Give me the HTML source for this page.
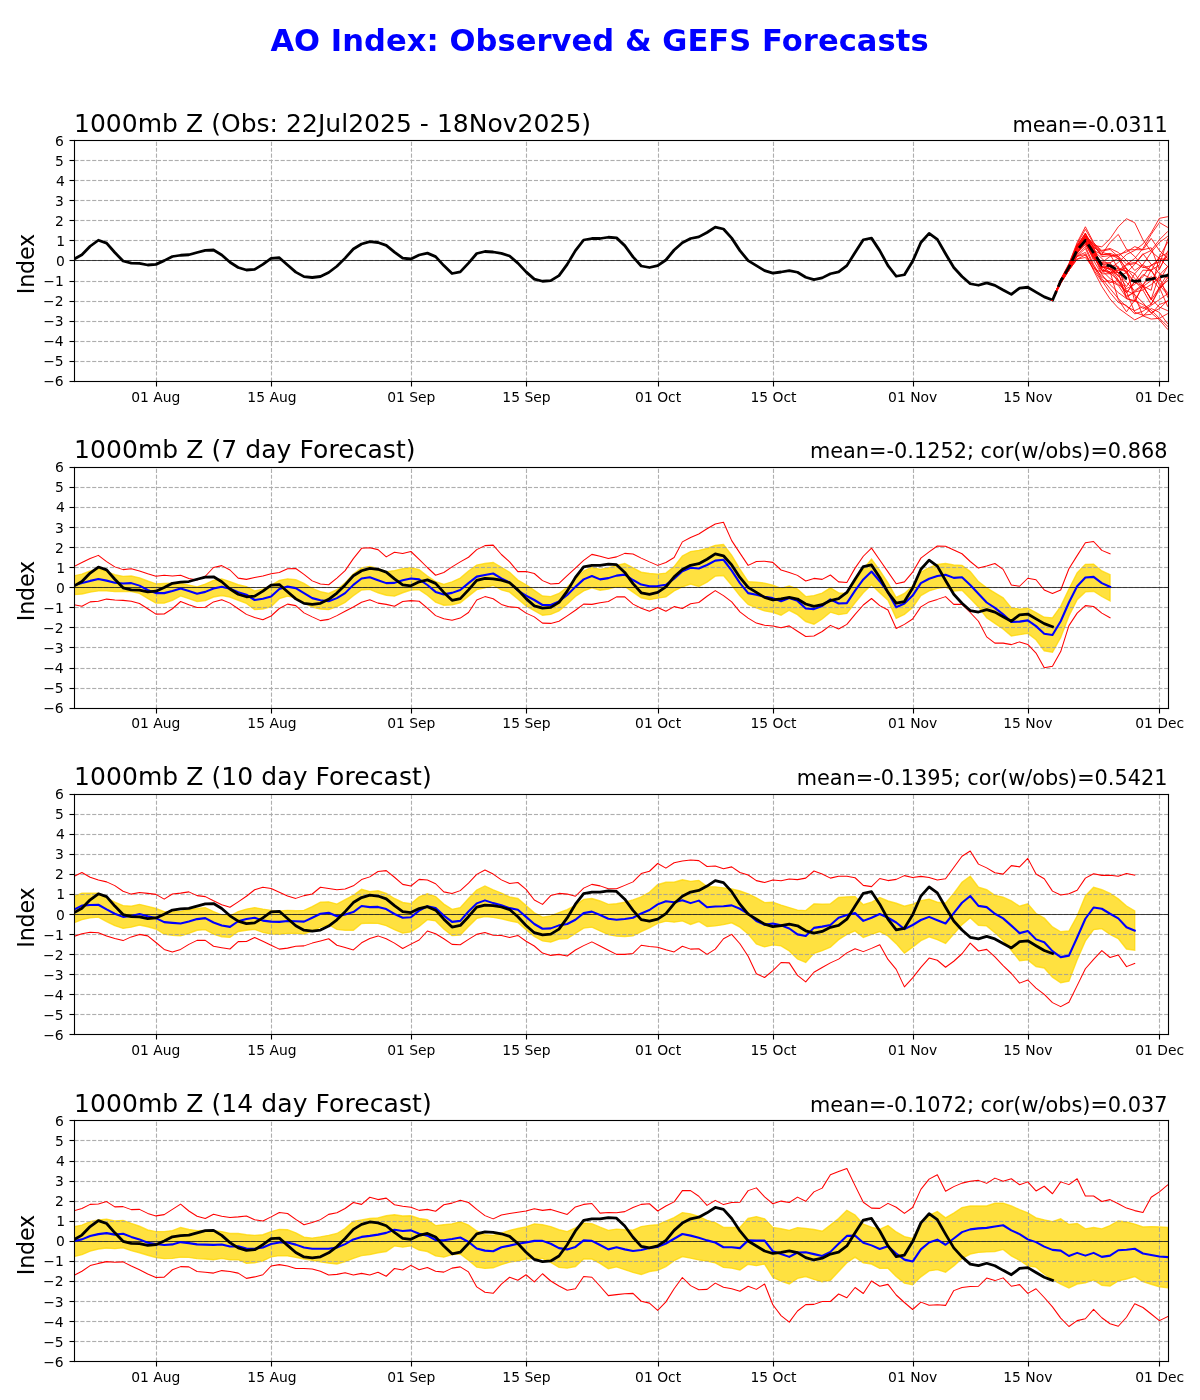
<!DOCTYPE html>
<html lang="en"><head><meta charset="utf-8"><title>AO Index: Observed &amp; GEFS Forecasts</title>
<style>html,body{margin:0;padding:0;background:#fff}body{width:1200px;height:1400px;overflow:hidden}svg{display:block}text{font-family:"DejaVu Sans","Liberation Sans",sans-serif;fill:#000}.tk{font-size:13.89px}.tl{font-size:25px}.tr{font-size:20.83px}.yl{font-size:22.22px}.st{font-size:30.56px;font-weight:bold;fill:#0000ff}.g{stroke:#999999;stroke-opacity:0.79;stroke-width:1.11;stroke-dasharray:4.11 1.78;fill:none}.g2{stroke:#999999;stroke-opacity:0.047;stroke-width:3;stroke-dasharray:4.11 1.78;fill:none}.sp{stroke:#000;stroke-width:1.11;fill:none}.ob{stroke:#000;stroke-width:2.78;fill:none;stroke-linejoin:round;stroke-linecap:square}.bl{stroke:#0000ff;stroke-width:2.08;fill:none;stroke-linejoin:round;stroke-linecap:square}.rd{stroke:#ff0000;stroke-width:1.04;fill:none;stroke-linejoin:round;stroke-linecap:square}.en{stroke:#ff0000;stroke-width:0.84;fill:none;stroke-linejoin:round;stroke-linecap:square}.yb{fill:#ffd700;fill-opacity:0.75;stroke:#ffd700;stroke-opacity:0.75;stroke-width:1.39;stroke-linejoin:miter}.z{stroke:#000;stroke-width:0.7;fill:none}</style></head><body>
<svg width="1200" height="1400" viewBox="0 0 1200 1400">
<rect width="1200" height="1400" fill="#fff"/>
<text class="st" x="599.5" y="51" text-anchor="middle" textLength="658.2">AO Index: Observed &amp; GEFS Forecasts</text>
<defs><clipPath id="c0"><rect x="74" y="140" width="1094" height="241"/></clipPath><clipPath id="c1"><rect x="74" y="467" width="1094" height="241"/></clipPath><clipPath id="c2"><rect x="74" y="794" width="1094" height="240"/></clipPath><clipPath id="c3"><rect x="74" y="1120" width="1094" height="241"/></clipPath></defs>
<g id="panel1">
<path class="g2" d="M74.5 160.5H1168.5M74.5 180.5H1168.5M74.5 200.5H1168.5M74.5 220.5H1168.5M74.5 240.5H1168.5M74.5 260.5H1168.5M74.5 281.5H1168.5M74.5 301.5H1168.5M74.5 321.5H1168.5M74.5 341.5H1168.5M74.5 361.5H1168.5"/>
<path class="g" d="M156.5 381.5V140.5M271.5 381.5V140.5M411.5 381.5V140.5M526.5 381.5V140.5M658.5 381.5V140.5M773.5 381.5V140.5M913.5 381.5V140.5M1028.5 381.5V140.5M1159.5 381.5V140.5M74.5 160.5H1168.5M74.5 180.5H1168.5M74.5 200.5H1168.5M74.5 220.5H1168.5M74.5 240.5H1168.5M74.5 260.5H1168.5M74.5 281.5H1168.5M74.5 301.5H1168.5M74.5 321.5H1168.5M74.5 341.5H1168.5M74.5 361.5H1168.5"/>
<g clip-path="url(#c0)">
<polyline class="ob" points="73.70,259.38 81.92,254.75 90.15,246.25 98.38,240.25 106.60,243.12 114.83,252.50 123.05,261.00 131.28,263.12 139.50,263.38 147.72,265.00 155.95,264.38 164.18,260.62 172.40,256.50 180.62,255.25 188.85,254.75 197.07,252.50 205.30,250.38 213.52,250.00 221.75,255.00 229.98,262.25 238.20,267.50 246.43,270.00 254.65,269.38 262.88,264.38 271.10,258.38 279.32,257.75 287.55,265.00 295.77,272.12 304.00,276.62 312.22,277.50 320.45,276.50 328.68,272.50 336.90,266.25 345.12,258.12 353.35,249.00 361.57,244.00 369.80,241.62 378.02,242.50 386.25,245.38 394.47,252.12 402.70,258.12 410.92,259.00 419.15,255.00 427.38,253.12 435.60,256.62 443.82,265.62 452.05,273.50 460.27,271.88 468.50,263.12 476.72,253.50 484.95,251.50 493.17,252.00 501.40,253.44 509.62,256.00 517.85,263.12 526.08,271.88 534.30,279.12 542.52,281.25 550.75,280.62 558.98,275.62 567.20,264.38 575.42,250.62 583.65,240.00 591.88,238.50 600.10,238.50 608.33,237.25 616.55,237.88 624.77,245.62 633.00,256.88 641.23,266.00 649.45,267.50 657.68,265.62 665.90,260.00 674.12,250.00 682.35,242.75 690.58,238.50 698.80,236.88 707.02,232.50 715.25,227.12 723.48,229.00 731.70,238.12 739.93,250.62 748.15,260.62 756.38,265.62 764.60,270.62 772.83,273.12 781.05,272.00 789.27,270.62 797.50,272.25 805.73,277.25 813.95,279.62 822.18,277.88 830.40,273.75 838.62,271.88 846.85,265.62 855.08,252.50 863.30,239.75 871.52,238.12 879.75,250.62 887.98,265.62 896.20,276.25 904.42,274.75 912.65,261.25 920.88,242.50 929.10,233.38 937.33,239.38 945.55,253.75 953.77,267.50 962.00,276.50 970.23,283.75 978.45,285.25 986.67,282.88 994.90,285.38 1003.12,290.00 1011.35,294.38 1019.58,288.12 1027.80,287.25 1036.02,292.12 1044.25,296.88 1052.47,300.00"/>
<polyline class="en" points="1052.47,300.31 1060.70,280.03 1068.92,265.26 1077.15,246.83 1085.38,234.38 1093.60,245.42 1101.83,246.82 1110.05,238.79 1118.28,226.75 1126.50,218.72 1134.72,222.74 1142.95,239.80 1151.17,251.44 1159.40,258.46 1167.62,266.49 1175.85,270.51"/>
<polyline class="en" points="1052.47,300.31 1060.70,280.59 1068.92,266.39 1077.15,248.70 1085.38,238.39 1093.60,250.44 1101.83,254.45 1110.05,242.41 1118.28,234.38 1126.50,249.23 1134.72,256.46 1142.95,266.49 1151.17,270.51 1159.40,256.46 1167.62,242.41 1175.85,235.38"/>
<polyline class="en" points="1052.47,300.31 1060.70,280.97 1068.92,266.43 1077.15,248.56 1085.38,240.40 1093.60,254.45 1101.83,264.48 1110.05,268.50 1118.28,262.48 1126.50,254.45 1134.72,250.44 1142.95,244.01 1151.17,232.77 1159.40,218.32 1167.62,216.72 1175.85,215.91"/>
<polyline class="en" points="1052.47,300.31 1060.70,281.33 1068.92,266.21 1077.15,252.78 1085.38,242.41 1093.60,256.46 1101.83,266.49 1110.05,272.51 1118.28,270.51 1126.50,264.48 1134.72,258.46 1142.95,248.43 1151.17,234.38 1159.40,222.54 1167.62,227.35 1175.85,229.76"/>
<polyline class="en" points="1052.47,300.31 1060.70,280.05 1068.92,266.53 1077.15,247.57 1085.38,236.39 1093.60,250.44 1101.83,258.46 1110.05,266.49 1118.28,276.53 1126.50,272.51 1134.72,264.48 1142.95,254.45 1151.17,250.44 1159.40,239.80 1167.62,231.57 1175.85,227.45"/>
<polyline class="en" points="1052.47,300.31 1060.70,281.26 1068.92,268.08 1077.15,251.41 1085.38,244.41 1093.60,258.46 1101.83,262.48 1110.05,256.46 1118.28,254.45 1126.50,252.04 1134.72,246.62 1142.95,249.83 1151.17,238.39 1159.40,250.44 1167.62,258.46 1175.85,262.48"/>
<polyline class="en" points="1052.47,300.31 1060.70,283.18 1068.92,270.30 1077.15,255.99 1085.38,252.44 1093.60,270.51 1101.83,286.56 1110.05,299.00 1118.28,308.04 1126.50,314.06 1134.72,319.88 1142.95,315.86 1151.17,319.07 1159.40,318.27 1167.62,313.66 1175.85,311.35"/>
<polyline class="en" points="1052.47,300.31 1060.70,281.28 1068.92,267.87 1077.15,252.10 1085.38,240.40 1093.60,256.46 1101.83,270.51 1110.05,278.53 1118.28,284.55 1126.50,290.58 1134.72,294.59 1142.95,302.62 1151.17,312.85 1159.40,319.88 1167.62,329.31 1175.85,334.03"/>
<polyline class="en" points="1052.47,300.31 1060.70,280.78 1068.92,267.33 1077.15,249.10 1085.38,242.41 1093.60,260.47 1101.83,274.52 1110.05,284.55 1118.28,292.58 1126.50,298.60 1134.72,300.61 1142.95,304.62 1151.17,310.04 1159.40,318.27 1167.62,326.30 1175.85,330.31"/>
<polyline class="en" points="1052.47,300.31 1060.70,282.41 1068.92,269.11 1077.15,256.18 1085.38,248.43 1093.60,266.49 1101.83,280.54 1110.05,292.58 1118.28,302.42 1126.50,305.43 1134.72,313.86 1142.95,311.25 1151.17,305.43 1159.40,299.61 1167.62,293.79 1175.85,290.88"/>
<polyline class="en" points="1052.47,300.31 1060.70,281.53 1068.92,267.77 1077.15,254.70 1085.38,246.42 1093.60,264.48 1101.83,278.53 1110.05,288.57 1118.28,298.60 1126.50,306.63 1134.72,310.65 1142.95,306.63 1151.17,312.65 1159.40,308.64 1167.62,300.61 1175.85,296.60"/>
<polyline class="en" points="1052.47,300.31 1060.70,279.14 1068.92,263.68 1077.15,242.55 1085.38,226.75 1093.60,242.41 1101.83,252.44 1110.05,254.45 1118.28,258.46 1126.50,268.50 1134.72,278.53 1142.95,286.56 1151.17,280.54 1159.40,268.50 1167.62,254.45 1175.85,247.42"/>
<polyline class="en" points="1052.47,300.31 1060.70,280.07 1068.92,264.00 1077.15,243.91 1085.38,229.36 1093.60,243.41 1101.83,250.44 1110.05,248.43 1118.28,252.44 1126.50,260.47 1134.72,270.51 1142.95,264.48 1151.17,252.44 1159.40,242.41 1167.62,236.39 1175.85,233.38"/>
<polyline class="en" points="1052.47,300.31 1060.70,283.57 1068.92,270.30 1077.15,259.12 1085.38,257.46 1093.60,268.50 1101.83,272.51 1110.05,266.49 1118.28,272.51 1126.50,282.55 1134.72,290.58 1142.95,284.55 1151.17,276.53 1159.40,282.55 1167.62,292.58 1175.85,297.60"/>
<polyline class="en" points="1052.47,300.31 1060.70,282.41 1068.92,270.30 1077.15,256.40 1085.38,254.45 1093.60,266.49 1101.83,276.53 1110.05,282.55 1118.28,280.54 1126.50,288.57 1134.72,284.55 1142.95,274.52 1151.17,278.53 1159.40,288.57 1167.62,280.54 1175.85,276.53"/>
<polyline class="en" points="1052.47,300.31 1060.70,280.72 1068.92,266.96 1077.15,251.48 1085.38,242.51 1093.60,252.83 1101.83,266.51 1110.05,269.32 1118.28,282.39 1126.50,292.65 1134.72,282.15 1142.95,276.87 1151.17,264.93 1159.40,261.93 1167.62,256.82 1175.85,254.27"/>
<polyline class="en" points="1052.47,300.31 1060.70,281.16 1068.92,266.66 1077.15,249.71 1085.38,240.12 1093.60,258.51 1101.83,267.37 1110.05,265.33 1118.28,266.42 1126.50,291.74 1134.72,312.29 1142.95,315.22 1151.17,314.27 1159.40,304.46 1167.62,301.49 1175.85,300.01"/>
<polyline class="en" points="1052.47,300.31 1060.70,280.60 1068.92,266.02 1077.15,249.21 1085.38,238.30 1093.60,253.25 1101.83,264.50 1110.05,262.99 1118.28,273.30 1126.50,265.10 1134.72,263.67 1142.95,253.71 1151.17,264.33 1159.40,273.73 1167.62,277.90 1175.85,279.99"/>
<polyline class="en" points="1052.47,300.31 1060.70,281.93 1068.92,267.81 1077.15,253.37 1085.38,241.70 1093.60,251.68 1101.83,263.18 1110.05,266.62 1118.28,279.67 1126.50,293.04 1134.72,281.31 1142.95,289.55 1151.17,284.59 1159.40,276.95 1167.62,296.96 1175.85,306.96"/>
<polyline class="en" points="1052.47,300.31 1060.70,280.72 1068.92,267.22 1077.15,251.15 1085.38,240.86 1093.60,248.53 1101.83,270.27 1110.05,273.31 1118.28,280.04 1126.50,296.29 1134.72,292.04 1142.95,290.05 1151.17,304.47 1159.40,289.36 1167.62,277.76 1175.85,271.96"/>
<polyline class="en" points="1052.47,300.31 1060.70,280.32 1068.92,265.83 1077.15,247.43 1085.38,236.00 1093.60,243.77 1101.83,254.61 1110.05,254.27 1118.28,268.97 1126.50,271.69 1134.72,282.19 1142.95,286.41 1151.17,299.13 1159.40,307.06 1167.62,310.68 1175.85,312.49"/>
<polyline class="en" points="1052.47,300.31 1060.70,279.59 1068.92,265.91 1077.15,245.02 1085.38,234.14 1093.60,254.56 1101.83,273.87 1110.05,273.73 1118.28,267.91 1126.50,271.03 1134.72,295.57 1142.95,316.06 1151.17,308.47 1159.40,312.36 1167.62,323.76 1175.85,329.47"/>
<polyline class="en" points="1052.47,300.31 1060.70,279.77 1068.92,265.35 1077.15,248.39 1085.38,235.83 1093.60,244.84 1101.83,256.62 1110.05,255.62 1118.28,256.36 1126.50,250.04 1134.72,249.61 1142.95,249.81 1151.17,247.76 1159.40,269.54 1167.62,251.21 1175.85,242.04"/>
<polyline class="en" points="1052.47,300.31 1060.70,280.00 1068.92,267.34 1077.15,249.03 1085.38,235.95 1093.60,246.99 1101.83,268.52 1110.05,273.32 1118.28,272.35 1126.50,298.60 1134.72,301.48 1142.95,285.88 1151.17,299.22 1159.40,275.01 1167.62,266.44 1175.85,262.15"/>
<polyline class="en" points="1052.47,300.31 1060.70,281.85 1068.92,267.04 1077.15,252.63 1085.38,241.94 1093.60,252.99 1101.83,262.69 1110.05,262.72 1118.28,258.32 1126.50,273.92 1134.72,282.04 1142.95,270.09 1151.17,270.73 1159.40,281.09 1167.62,266.37 1175.85,259.02"/>
<polyline class="en" points="1052.47,300.31 1060.70,279.92 1068.92,265.77 1077.15,245.98 1085.38,233.18 1093.60,248.04 1101.83,266.88 1110.05,268.64 1118.28,275.30 1126.50,286.67 1134.72,273.66 1142.95,285.80 1151.17,269.89 1159.40,285.18 1167.62,294.50 1175.85,299.16"/>
<polyline class="en" points="1052.47,300.31 1060.70,280.77 1068.92,266.55 1077.15,245.99 1085.38,237.70 1093.60,246.39 1101.83,255.01 1110.05,253.34 1118.28,256.24 1126.50,263.98 1134.72,262.48 1142.95,267.64 1151.17,265.82 1159.40,258.67 1167.62,259.43 1175.85,259.81"/>
<polyline class="en" points="1052.47,300.31 1060.70,280.44 1068.92,266.22 1077.15,246.69 1085.38,236.98 1093.60,247.77 1101.83,251.18 1110.05,249.44 1118.28,256.62 1126.50,269.47 1134.72,273.73 1142.95,264.72 1151.17,270.35 1159.40,264.98 1167.62,239.25 1175.85,226.39"/>
<polyline class="en" points="1052.47,300.31 1060.70,283.08 1068.92,270.30 1077.15,259.10 1085.38,255.02 1093.60,269.69 1101.83,281.53 1110.05,280.81 1118.28,285.42 1126.50,297.69 1134.72,291.58 1142.95,285.95 1151.17,290.29 1159.40,256.97 1167.62,252.90 1175.85,250.86"/>
<polyline class="en" points="1052.47,300.31 1060.70,281.09 1068.92,269.06 1077.15,252.98 1085.38,244.13 1093.60,256.44 1101.83,270.18 1110.05,271.66 1118.28,299.56 1126.50,311.81 1134.72,300.29 1142.95,308.64 1151.17,304.18 1159.40,287.54 1167.62,273.48 1175.85,266.45"/>
<polyline class="en" points="1052.47,300.31 1060.70,279.55 1068.92,265.18 1077.15,245.85 1085.38,233.04 1093.60,252.41 1101.83,266.66 1110.05,269.64 1118.28,270.11 1126.50,268.14 1134.72,301.48 1142.95,285.13 1151.17,300.14 1159.40,287.37 1167.62,306.42 1175.85,315.94"/>
<path class="z" d="M74.5 260.5H1168.5"/>
<polyline class="ob" style="stroke-dasharray:10.3 4.45;stroke-linecap:butt" points="1052.47,300.33 1060.70,281.00 1068.92,267.25 1077.15,250.00 1085.38,240.40 1093.60,252.67 1101.83,265.12 1110.05,265.67 1118.28,270.54 1126.50,278.67 1134.72,281.38 1142.95,280.29 1151.17,279.21 1159.40,277.04 1167.62,275.42 1175.85,274.33"/>
</g>
<g fill="#000"><rect x="73.945" y="139.945" width="1095.110" height="1.110"/><rect x="73.945" y="380.945" width="1095.110" height="1.110"/><rect x="73.945" y="139.945" width="1.110" height="242.110"/><rect x="1167.945" y="139.945" width="1.110" height="242.110"/><rect x="155.945" y="381.500" width="1.110" height="5.000"/><rect x="270.945" y="381.500" width="1.110" height="5.000"/><rect x="410.945" y="381.500" width="1.110" height="5.000"/><rect x="525.945" y="381.500" width="1.110" height="5.000"/><rect x="657.945" y="381.500" width="1.110" height="5.000"/><rect x="772.945" y="381.500" width="1.110" height="5.000"/><rect x="912.945" y="381.500" width="1.110" height="5.000"/><rect x="1027.945" y="381.500" width="1.110" height="5.000"/><rect x="1158.945" y="381.500" width="1.110" height="5.000"/><rect x="69.500" y="139.945" width="5.000" height="1.110"/><rect x="69.500" y="159.945" width="5.000" height="1.110"/><rect x="69.500" y="179.945" width="5.000" height="1.110"/><rect x="69.500" y="199.945" width="5.000" height="1.110"/><rect x="69.500" y="219.945" width="5.000" height="1.110"/><rect x="69.500" y="239.945" width="5.000" height="1.110"/><rect x="69.500" y="259.945" width="5.000" height="1.110"/><rect x="69.500" y="280.945" width="5.000" height="1.110"/><rect x="69.500" y="300.945" width="5.000" height="1.110"/><rect x="69.500" y="320.945" width="5.000" height="1.110"/><rect x="69.500" y="340.945" width="5.000" height="1.110"/><rect x="69.500" y="360.945" width="5.000" height="1.110"/><rect x="69.500" y="380.945" width="5.000" height="1.110"/></g>
<text class="tk" x="63.76" y="146.44" text-anchor="end">6</text>
<text class="tk" x="63.72" y="166.28" text-anchor="end">5</text>
<text class="tk" x="64.80" y="185.76" text-anchor="end">4</text>
<text class="tk" x="63.80" y="205.88" text-anchor="end">3</text>
<text class="tk" x="63.83" y="225.96" text-anchor="end">2</text>
<text class="tk" x="64.96" y="245.96" text-anchor="end">1</text>
<text class="tk" x="64.85" y="266.33" text-anchor="end">0</text>
<text class="tk" x="63.74" y="285.94" text-anchor="end">−1</text>
<text class="tk" x="63.59" y="305.96" text-anchor="end">−2</text>
<text class="tk" x="63.64" y="325.89" text-anchor="end">−3</text>
<text class="tk" x="63.61" y="345.80" text-anchor="end">−4</text>
<text class="tk" x="63.60" y="366.21" text-anchor="end">−5</text>
<text class="tk" x="63.63" y="386.32" text-anchor="end">−6</text>
<text class="tk" x="155.84" y="402.08" text-anchor="middle">01 Aug</text>
<text class="tk" x="271.94" y="402.08" text-anchor="middle">15 Aug</text>
<text class="tk" x="411.32" y="402.16" text-anchor="middle">01 Sep</text>
<text class="tk" x="526.46" y="402.20" text-anchor="middle">15 Sep</text>
<text class="tk" x="658.14" y="402.07" text-anchor="middle">01 Oct</text>
<text class="tk" x="773.43" y="402.07" text-anchor="middle">15 Oct</text>
<text class="tk" x="912.65" y="402.09" text-anchor="middle">01 Nov</text>
<text class="tk" x="1027.81" y="402.12" text-anchor="middle">15 Nov</text>
<text class="tk" x="1159.75" y="402.13" text-anchor="middle">01 Dec</text>
<text class="tl" x="74.0" y="132" textLength="517.1">1000mb Z (Obs: 22Jul2025 - 18Nov2025)</text>
<text class="tr" x="1167.8" y="132" text-anchor="end" textLength="155.3">mean=-0.0311</text>
<text class="yl" transform="translate(34.20 264.00) rotate(-90)" text-anchor="middle" textLength="60.5">Index</text>
</g>
<g id="panel2">
<polygon class="yb" clip-path="url(#c1)" points="73.70,575.98 81.92,574.10 90.15,570.98 98.38,568.85 106.60,571.60 114.83,574.73 123.05,576.35 131.28,575.98 139.50,577.85 147.72,580.98 155.95,583.85 164.18,583.48 172.40,583.10 180.62,583.48 188.85,585.10 197.07,586.85 205.30,584.10 213.52,580.35 221.75,578.85 229.98,581.60 238.20,584.73 246.43,586.60 254.65,590.98 262.88,589.10 271.10,585.35 279.32,580.35 287.55,578.85 295.77,579.73 304.00,583.48 312.22,588.48 320.45,591.60 328.68,593.48 336.90,589.73 345.12,582.85 353.35,574.10 361.57,567.98 369.80,566.35 378.02,568.48 386.25,571.60 394.47,570.60 402.70,568.73 410.92,567.60 419.15,569.73 427.38,575.98 435.60,581.60 443.82,584.35 452.05,581.85 460.27,578.10 468.50,570.98 476.72,565.10 484.95,563.48 493.17,562.48 501.40,567.23 509.62,572.23 517.85,580.10 526.08,584.73 534.30,590.35 542.52,595.98 550.75,596.60 558.98,593.48 567.20,587.23 575.42,579.10 583.65,570.98 591.88,567.23 600.10,569.35 608.33,567.85 616.55,565.35 624.77,563.48 633.00,567.85 641.23,572.23 649.45,573.48 657.68,574.10 665.90,573.10 674.12,566.60 682.35,555.98 690.58,551.60 698.80,550.35 707.02,548.48 715.25,545.35 723.48,544.48 731.70,555.35 739.93,569.10 748.15,581.60 756.38,582.23 764.60,583.10 772.83,585.23 781.05,588.48 789.27,585.98 797.50,589.10 805.73,596.60 813.95,595.60 822.18,593.10 830.40,587.85 838.62,592.85 846.85,593.48 855.08,582.23 863.30,569.10 871.52,559.10 879.75,570.35 887.98,582.85 896.20,597.48 904.42,593.48 912.65,585.98 920.88,572.23 929.10,567.60 937.33,564.35 945.55,563.48 953.77,564.98 962.00,565.35 970.23,571.60 978.45,581.60 986.67,587.85 994.90,592.85 1003.12,597.85 1011.35,607.85 1019.58,609.10 1027.80,608.23 1036.02,612.54 1044.25,617.23 1052.47,617.85 1060.70,606.29 1068.92,589.10 1077.15,572.85 1085.38,564.35 1093.60,564.10 1101.83,570.98 1110.05,574.73 1110.05,600.90 1101.83,596.52 1093.60,591.27 1085.38,591.90 1077.15,599.65 1068.92,615.90 1060.70,637.46 1052.47,652.15 1044.25,650.77 1036.02,639.77 1027.80,633.40 1019.58,634.65 1011.35,635.90 1003.12,629.02 994.90,623.40 986.67,617.77 978.45,606.90 970.23,598.40 962.00,590.27 953.77,591.15 945.55,587.15 937.33,588.40 929.10,590.90 920.88,595.59 912.65,607.46 904.42,614.40 896.20,618.40 887.98,600.27 879.75,592.77 871.52,584.65 863.30,592.77 855.08,602.77 846.85,613.40 838.62,614.65 830.40,612.15 822.18,619.02 813.95,624.27 805.73,621.52 797.50,614.65 789.27,610.27 781.05,615.27 772.83,612.27 764.60,610.90 756.38,607.77 748.15,604.40 739.93,595.90 731.70,585.27 723.48,575.52 715.25,576.15 707.02,582.15 698.80,586.52 690.58,584.02 682.35,586.90 674.12,590.90 665.90,596.90 657.68,598.15 649.45,599.65 641.23,597.77 633.00,592.15 624.77,586.52 616.55,586.52 608.33,589.02 600.10,590.27 591.88,587.77 583.65,590.90 575.42,596.52 567.20,604.02 558.98,610.90 550.75,614.40 542.52,615.27 534.30,610.65 526.08,605.90 517.85,599.02 509.62,592.15 501.40,589.96 493.17,585.27 484.95,587.77 476.72,589.65 468.50,596.15 460.27,602.77 452.05,604.90 443.82,605.27 435.60,602.15 427.38,595.27 419.15,589.65 410.92,590.02 402.70,592.77 394.47,596.15 386.25,595.27 378.02,592.77 369.80,589.40 361.57,589.96 353.35,595.77 345.12,602.40 336.90,606.52 328.68,609.65 320.45,609.02 312.22,607.15 304.00,602.77 295.77,597.77 287.55,596.15 279.32,598.65 271.10,606.52 262.88,609.02 254.65,609.65 246.43,603.40 238.20,600.27 229.98,597.15 221.75,595.46 213.52,597.02 205.30,600.65 197.07,601.52 188.85,598.65 180.62,595.90 172.40,600.27 164.18,603.15 155.95,603.15 147.72,598.40 139.50,593.40 131.28,591.52 123.05,591.52 114.83,591.52 106.60,590.90 98.38,590.90 90.15,592.15 81.92,594.02 73.70,594.65"/>
<path class="g2" d="M74.5 487.5H1168.5M74.5 507.5H1168.5M74.5 527.5H1168.5M74.5 547.5H1168.5M74.5 567.5H1168.5M74.5 587.5H1168.5M74.5 607.5H1168.5M74.5 627.5H1168.5M74.5 647.5H1168.5M74.5 668.5H1168.5M74.5 688.5H1168.5"/>
<path class="g" d="M156.5 708.5V467.5M271.5 708.5V467.5M411.5 708.5V467.5M526.5 708.5V467.5M658.5 708.5V467.5M773.5 708.5V467.5M913.5 708.5V467.5M1028.5 708.5V467.5M1159.5 708.5V467.5M74.5 487.5H1168.5M74.5 507.5H1168.5M74.5 527.5H1168.5M74.5 547.5H1168.5M74.5 567.5H1168.5M74.5 587.5H1168.5M74.5 607.5H1168.5M74.5 627.5H1168.5M74.5 647.5H1168.5M74.5 668.5H1168.5M74.5 688.5H1168.5"/>
<g clip-path="url(#c1)">
<polyline class="rd" points="73.70,566.62 81.92,562.50 90.15,558.50 98.38,555.38 106.60,561.62 114.83,566.88 123.05,569.62 131.28,568.75 139.50,571.00 147.72,573.75 155.95,576.25 164.18,575.25 172.40,576.00 180.62,575.25 188.85,578.50 197.07,580.00 205.30,576.25 213.52,567.50 221.75,565.62 229.98,570.00 238.20,578.12 246.43,579.38 254.65,577.50 262.88,576.00 271.10,573.75 279.32,572.50 287.55,568.75 295.77,568.50 304.00,574.38 312.22,580.88 320.45,584.00 328.68,584.75 336.90,578.12 345.12,570.62 353.35,558.62 361.57,548.31 369.80,547.75 378.02,549.62 386.25,556.88 394.47,552.25 402.70,553.50 410.92,551.50 419.15,559.38 427.38,567.50 435.60,575.25 443.82,572.50 452.05,566.88 460.27,561.88 468.50,557.25 476.72,549.62 484.95,545.62 493.17,545.12 501.40,554.50 509.62,561.88 517.85,571.62 526.08,571.50 534.30,573.50 542.52,580.62 550.75,584.00 558.98,583.38 567.20,575.62 575.42,568.12 583.65,560.38 591.88,554.38 600.10,556.25 608.33,558.50 616.55,556.88 624.77,553.38 633.00,553.94 641.23,558.12 649.45,561.88 657.68,565.38 665.90,562.50 674.12,557.50 682.35,541.88 690.58,537.50 698.80,534.00 707.02,528.75 715.25,524.00 723.48,522.25 731.70,540.62 739.93,553.12 748.15,565.38 756.38,561.50 764.60,561.25 772.83,562.38 781.05,570.00 789.27,572.50 797.50,575.38 805.73,581.00 813.95,578.38 822.18,579.38 830.40,575.00 838.62,581.88 846.85,582.50 855.08,568.12 863.30,556.25 871.52,548.12 879.75,560.00 887.98,571.88 896.20,583.75 904.42,581.88 912.65,572.19 920.88,558.12 929.10,551.88 937.33,546.00 945.55,546.25 953.77,550.00 962.00,553.75 970.23,561.50 978.45,568.12 986.67,566.00 994.90,563.50 1003.12,569.38 1011.35,585.00 1019.58,586.25 1027.80,578.25 1036.02,579.75 1044.25,590.00 1052.47,593.50 1060.70,590.00 1068.92,568.75 1077.15,555.62 1085.38,542.75 1093.60,541.50 1101.83,550.38 1110.05,553.75"/>
<polyline class="rd" points="73.70,604.62 81.92,606.25 90.15,601.88 98.38,601.25 106.60,599.12 114.83,600.00 123.05,600.38 131.28,601.25 139.50,603.50 147.72,608.75 155.95,614.12 164.18,614.00 172.40,608.75 180.62,601.50 188.85,604.75 197.07,607.50 205.30,607.25 213.52,601.88 221.75,599.69 229.98,603.12 238.20,608.75 246.43,614.38 254.65,617.50 262.88,619.75 271.10,616.00 279.32,608.50 287.55,604.12 295.77,605.62 304.00,612.88 312.22,616.88 320.45,620.62 328.68,619.38 336.90,615.62 345.12,611.25 353.35,607.06 361.57,602.19 369.80,599.75 378.02,603.12 386.25,604.38 394.47,606.25 402.70,601.50 410.92,600.62 419.15,601.25 427.38,608.12 435.60,615.62 443.82,618.75 452.05,620.25 460.27,618.12 468.50,612.50 476.72,600.00 484.95,596.62 493.17,598.75 501.40,604.38 509.62,606.88 517.85,607.50 526.08,613.12 534.30,616.88 542.52,623.12 550.75,623.38 558.98,621.25 567.20,615.88 575.42,610.25 583.65,604.12 591.88,604.38 600.10,602.75 608.33,601.50 616.55,596.88 624.77,596.88 633.00,604.12 641.23,608.31 649.45,611.25 657.68,607.50 665.90,611.25 674.12,606.62 682.35,608.50 690.58,603.75 698.80,602.50 707.02,596.25 715.25,590.62 723.48,595.62 731.70,601.88 739.93,611.88 748.15,618.12 756.38,623.12 764.60,625.25 772.83,626.00 781.05,627.81 789.27,625.88 797.50,631.25 805.73,636.50 813.95,636.00 822.18,631.50 830.40,625.38 838.62,629.00 846.85,624.38 855.08,614.38 863.30,605.00 871.52,598.50 879.75,605.62 887.98,610.00 896.20,628.50 904.42,624.38 912.65,619.06 920.88,606.88 929.10,601.88 937.33,599.38 945.55,596.62 953.77,604.38 962.00,604.38 970.23,612.50 978.45,621.25 986.67,636.88 994.90,643.12 1003.12,643.12 1011.35,644.62 1019.58,641.88 1027.80,644.38 1036.02,653.12 1044.25,667.75 1052.47,666.25 1060.70,651.56 1068.92,625.62 1077.15,613.12 1085.38,605.62 1093.60,606.50 1101.83,613.12 1110.05,617.75"/>
<path class="z" d="M74.5 587.5H1168.5"/>
<polyline class="bl" points="73.70,585.62 81.92,583.12 90.15,580.88 98.38,579.00 106.60,580.62 114.83,582.75 123.05,583.50 131.28,583.12 139.50,585.62 147.72,590.00 155.95,593.12 164.18,593.12 172.40,591.00 180.62,588.50 188.85,591.00 197.07,593.75 205.30,591.88 213.52,588.50 221.75,586.75 229.98,588.75 238.20,592.12 246.43,594.75 254.65,600.00 262.88,598.75 271.10,596.50 279.32,589.00 287.55,586.62 295.77,588.12 304.00,593.12 312.22,598.12 320.45,600.25 328.68,601.25 336.90,598.12 345.12,593.12 353.35,584.88 361.57,578.50 369.80,577.25 378.02,580.25 386.25,583.12 394.47,582.88 402.70,580.25 410.92,578.50 419.15,579.38 427.38,585.00 435.60,591.88 443.82,594.38 452.05,592.88 460.27,590.00 468.50,583.12 476.72,576.62 484.95,575.00 493.17,573.50 501.40,578.44 509.62,582.50 517.85,590.62 526.08,595.62 534.30,600.00 542.52,605.00 550.75,605.00 558.98,601.50 567.20,595.00 575.42,586.88 583.65,579.38 591.88,576.00 600.10,579.38 608.33,578.12 616.55,575.62 624.77,574.62 633.00,580.00 641.23,584.56 649.45,586.25 657.68,586.00 665.90,584.75 674.12,578.75 682.35,571.25 690.58,567.75 698.80,568.50 707.02,565.00 715.25,560.62 723.48,559.75 731.70,570.62 739.93,583.12 748.15,593.12 756.38,594.75 764.60,596.88 772.83,598.12 781.05,601.25 789.27,598.12 797.50,600.88 805.73,608.50 813.95,609.12 822.18,606.00 830.40,599.38 838.62,603.50 846.85,603.12 855.08,590.62 863.30,579.38 871.52,571.50 879.75,581.25 887.98,592.50 896.20,607.25 904.42,603.50 912.65,595.62 920.88,583.12 929.10,578.75 937.33,576.00 945.55,574.75 953.77,577.88 962.00,577.25 970.23,585.00 978.45,593.75 986.67,602.50 994.90,607.88 1003.12,614.38 1011.35,621.88 1019.58,621.62 1027.80,620.38 1036.02,626.12 1044.25,633.75 1052.47,635.00 1060.70,621.25 1068.92,602.50 1077.15,586.25 1085.38,577.50 1093.60,576.88 1101.83,583.12 1110.05,586.88"/>
<polyline class="ob" points="73.70,586.15 81.92,581.53 90.15,573.03 98.38,567.03 106.60,569.90 114.83,579.28 123.05,587.78 131.28,589.90 139.50,590.15 147.72,591.78 155.95,591.15 164.18,587.40 172.40,583.28 180.62,582.03 188.85,581.53 197.07,579.28 205.30,577.15 213.52,576.78 221.75,581.78 229.98,589.03 238.20,594.28 246.43,596.78 254.65,596.15 262.88,591.15 271.10,585.15 279.32,584.53 287.55,591.78 295.77,598.90 304.00,603.40 312.22,604.28 320.45,603.28 328.68,599.28 336.90,593.03 345.12,584.90 353.35,575.78 361.57,570.78 369.80,568.40 378.02,569.28 386.25,572.15 394.47,578.90 402.70,584.90 410.92,585.78 419.15,581.78 427.38,579.90 435.60,583.40 443.82,592.40 452.05,600.28 460.27,598.65 468.50,589.90 476.72,580.28 484.95,578.28 493.17,578.78 501.40,580.22 509.62,582.78 517.85,589.90 526.08,598.65 534.30,605.90 542.52,608.03 550.75,607.40 558.98,602.40 567.20,591.15 575.42,577.40 583.65,566.78 591.88,565.28 600.10,565.28 608.33,564.03 616.55,564.65 624.77,572.40 633.00,583.65 641.23,592.78 649.45,594.28 657.68,592.40 665.90,586.78 674.12,576.78 682.35,569.53 690.58,565.28 698.80,563.65 707.02,559.28 715.25,553.90 723.48,555.78 731.70,564.90 739.93,577.40 748.15,587.40 756.38,592.40 764.60,597.40 772.83,599.90 781.05,598.78 789.27,597.40 797.50,599.03 805.73,604.03 813.95,606.40 822.18,604.65 830.40,600.53 838.62,598.65 846.85,592.40 855.08,579.28 863.30,566.53 871.52,564.90 879.75,577.40 887.98,592.40 896.20,603.03 904.42,601.53 912.65,588.03 920.88,569.28 929.10,560.15 937.33,566.15 945.55,580.53 953.77,594.28 962.00,603.28 970.23,610.53 978.45,612.03 986.67,609.65 994.90,612.15 1003.12,616.78 1011.35,621.15 1019.58,614.90 1027.80,614.03 1036.02,618.90 1044.25,623.65 1052.47,626.78"/>
</g>
<g fill="#000"><rect x="73.945" y="466.945" width="1095.110" height="1.110"/><rect x="73.945" y="707.945" width="1095.110" height="1.110"/><rect x="73.945" y="466.945" width="1.110" height="242.110"/><rect x="1167.945" y="466.945" width="1.110" height="242.110"/><rect x="155.945" y="708.500" width="1.110" height="5.000"/><rect x="270.945" y="708.500" width="1.110" height="5.000"/><rect x="410.945" y="708.500" width="1.110" height="5.000"/><rect x="525.945" y="708.500" width="1.110" height="5.000"/><rect x="657.945" y="708.500" width="1.110" height="5.000"/><rect x="772.945" y="708.500" width="1.110" height="5.000"/><rect x="912.945" y="708.500" width="1.110" height="5.000"/><rect x="1027.945" y="708.500" width="1.110" height="5.000"/><rect x="1158.945" y="708.500" width="1.110" height="5.000"/><rect x="69.500" y="466.945" width="5.000" height="1.110"/><rect x="69.500" y="486.945" width="5.000" height="1.110"/><rect x="69.500" y="506.945" width="5.000" height="1.110"/><rect x="69.500" y="526.945" width="5.000" height="1.110"/><rect x="69.500" y="546.945" width="5.000" height="1.110"/><rect x="69.500" y="566.945" width="5.000" height="1.110"/><rect x="69.500" y="586.945" width="5.000" height="1.110"/><rect x="69.500" y="606.945" width="5.000" height="1.110"/><rect x="69.500" y="626.945" width="5.000" height="1.110"/><rect x="69.500" y="646.945" width="5.000" height="1.110"/><rect x="69.500" y="667.945" width="5.000" height="1.110"/><rect x="69.500" y="687.945" width="5.000" height="1.110"/><rect x="69.500" y="707.945" width="5.000" height="1.110"/></g>
<text class="tk" x="63.76" y="472.44" text-anchor="end">6</text>
<text class="tk" x="63.72" y="492.28" text-anchor="end">5</text>
<text class="tk" x="64.80" y="511.76" text-anchor="end">4</text>
<text class="tk" x="63.80" y="532.88" text-anchor="end">3</text>
<text class="tk" x="63.83" y="552.96" text-anchor="end">2</text>
<text class="tk" x="64.96" y="572.96" text-anchor="end">1</text>
<text class="tk" x="64.85" y="593.33" text-anchor="end">0</text>
<text class="tk" x="63.74" y="612.94" text-anchor="end">−1</text>
<text class="tk" x="63.59" y="632.96" text-anchor="end">−2</text>
<text class="tk" x="63.64" y="652.89" text-anchor="end">−3</text>
<text class="tk" x="63.61" y="672.80" text-anchor="end">−4</text>
<text class="tk" x="63.60" y="693.21" text-anchor="end">−5</text>
<text class="tk" x="63.63" y="713.32" text-anchor="end">−6</text>
<text class="tk" x="155.84" y="728.08" text-anchor="middle">01 Aug</text>
<text class="tk" x="271.94" y="728.08" text-anchor="middle">15 Aug</text>
<text class="tk" x="411.32" y="728.16" text-anchor="middle">01 Sep</text>
<text class="tk" x="526.46" y="728.20" text-anchor="middle">15 Sep</text>
<text class="tk" x="658.14" y="728.07" text-anchor="middle">01 Oct</text>
<text class="tk" x="773.43" y="728.07" text-anchor="middle">15 Oct</text>
<text class="tk" x="912.65" y="728.09" text-anchor="middle">01 Nov</text>
<text class="tk" x="1027.81" y="728.12" text-anchor="middle">15 Nov</text>
<text class="tk" x="1159.75" y="728.13" text-anchor="middle">01 Dec</text>
<text class="tl" x="74.0" y="458" textLength="341.6">1000mb Z (7 day Forecast)</text>
<text class="tr" x="1167.5" y="458" text-anchor="end">mean=-0.1252; cor(w/obs)=0.868</text>
<text class="yl" transform="translate(34.20 591.00) rotate(-90)" text-anchor="middle" textLength="60.5">Index</text>
</g>
<g id="panel3">
<polygon class="yb" clip-path="url(#c2)" points="73.70,896.60 81.92,893.10 90.15,893.10 98.38,893.10 106.60,897.85 114.83,902.23 123.05,905.60 131.28,906.23 139.50,904.35 147.72,906.35 155.95,908.48 164.18,911.60 172.40,911.85 180.62,911.35 188.85,909.73 197.07,908.48 205.30,907.60 213.52,911.60 221.75,914.91 229.98,915.98 238.20,911.60 246.43,909.10 254.65,907.60 262.88,909.10 271.10,910.35 279.32,910.98 287.55,910.35 295.77,910.73 304.00,910.35 312.22,906.60 320.45,902.23 328.68,901.85 336.90,904.10 345.12,899.73 353.35,895.35 361.57,889.35 369.80,891.60 378.02,890.73 386.25,893.48 394.47,898.48 402.70,902.48 410.92,903.73 419.15,896.85 427.38,893.85 435.60,896.60 443.82,904.10 452.05,909.35 460.27,907.60 468.50,898.48 476.72,889.98 484.95,885.98 493.17,889.85 501.40,893.10 509.62,896.98 517.85,898.48 526.08,905.60 534.30,912.85 542.52,917.23 550.75,915.98 558.98,912.60 567.20,909.73 575.42,905.35 583.65,899.35 591.88,898.48 600.10,900.98 608.33,904.35 616.55,903.73 624.77,902.23 633.00,899.91 641.23,896.91 649.45,892.23 657.68,884.73 665.90,882.23 674.12,882.23 682.35,879.73 690.58,881.35 698.80,880.35 707.02,886.60 715.25,886.85 723.48,887.85 731.70,888.85 739.93,890.98 748.15,893.85 756.38,897.85 764.60,902.60 772.83,902.23 781.05,905.10 789.27,907.60 797.50,910.10 805.73,910.60 813.95,903.85 822.18,904.10 830.40,903.85 838.62,897.48 846.85,896.85 855.08,896.60 863.30,904.73 871.52,902.23 879.75,897.48 887.98,900.98 896.20,903.23 904.42,906.23 912.65,904.10 920.88,900.66 929.10,899.10 937.33,902.23 945.55,903.10 953.77,893.48 962.00,882.23 970.23,876.23 978.45,887.23 986.67,889.73 994.90,895.35 1003.12,897.23 1011.35,900.98 1019.58,906.23 1027.80,903.73 1036.02,913.48 1044.25,918.16 1052.47,926.91 1060.70,931.79 1068.92,930.98 1077.15,915.98 1085.38,895.98 1093.60,887.23 1101.83,889.73 1110.05,893.48 1118.28,898.85 1126.50,905.98 1134.72,910.98 1134.72,950.27 1126.50,949.02 1118.28,938.65 1110.05,934.40 1101.83,928.65 1093.60,929.65 1085.38,940.90 1077.15,959.65 1068.92,981.15 1060.70,982.77 1052.47,977.15 1044.25,967.96 1036.02,966.52 1027.80,959.90 1019.58,960.65 1011.35,950.27 1003.12,940.27 994.90,932.77 986.67,925.90 978.45,925.27 970.23,917.77 962.00,924.65 953.77,934.02 945.55,943.40 937.33,939.65 929.10,936.77 920.88,940.59 912.65,947.15 904.42,953.15 896.20,943.65 887.98,935.90 879.75,931.52 871.52,934.40 863.30,937.52 855.08,930.90 846.85,934.40 838.62,939.65 830.40,947.15 822.18,950.65 813.95,953.40 805.73,962.40 797.50,959.02 789.27,950.90 781.05,945.90 772.83,944.90 764.60,946.90 756.38,944.02 748.15,934.02 739.93,927.15 731.70,922.77 723.48,924.65 715.25,925.90 707.02,926.52 698.80,921.52 690.58,924.40 682.35,920.90 674.12,922.15 665.90,921.15 657.68,923.40 649.45,927.77 641.23,931.52 633.00,935.90 624.77,936.52 616.55,936.15 608.33,934.65 600.10,930.90 591.88,927.15 583.65,928.15 575.42,933.40 567.20,938.65 558.98,939.02 550.75,942.15 542.52,940.90 534.30,936.52 526.08,929.65 517.85,922.52 509.62,920.90 501.40,918.71 493.17,917.40 484.95,916.52 476.72,918.40 468.50,926.52 460.27,935.02 452.05,935.65 443.82,929.02 435.60,920.90 427.38,919.65 419.15,926.52 410.92,931.90 402.70,933.15 394.47,929.65 386.25,925.65 378.02,923.40 369.80,923.15 361.57,923.52 353.35,930.27 345.12,930.27 336.90,929.40 328.68,924.65 320.45,927.15 312.22,930.90 304.00,934.02 295.77,933.40 287.55,933.40 279.32,934.40 271.10,934.02 262.88,932.40 254.65,929.40 246.43,930.27 238.20,931.52 229.98,937.40 221.75,936.71 213.52,934.21 205.30,929.65 197.07,930.27 188.85,933.40 180.62,935.90 172.40,935.27 164.18,934.02 155.95,929.02 147.72,926.77 139.50,925.02 131.28,927.15 123.05,928.40 114.83,925.65 106.60,921.52 98.38,917.15 90.15,917.77 81.92,919.65 73.70,922.77"/>
<path class="g2" d="M74.5 814.5H1168.5M74.5 834.5H1168.5M74.5 854.5H1168.5M74.5 874.5H1168.5M74.5 894.5H1168.5M74.5 914.5H1168.5M74.5 934.5H1168.5M74.5 954.5H1168.5M74.5 974.5H1168.5M74.5 994.5H1168.5M74.5 1014.5H1168.5"/>
<path class="g" d="M156.5 1034.5V794.5M271.5 1034.5V794.5M411.5 1034.5V794.5M526.5 1034.5V794.5M658.5 1034.5V794.5M773.5 1034.5V794.5M913.5 1034.5V794.5M1028.5 1034.5V794.5M1159.5 1034.5V794.5M74.5 814.5H1168.5M74.5 834.5H1168.5M74.5 854.5H1168.5M74.5 874.5H1168.5M74.5 894.5H1168.5M74.5 914.5H1168.5M74.5 934.5H1168.5M74.5 954.5H1168.5M74.5 974.5H1168.5M74.5 994.5H1168.5M74.5 1014.5H1168.5"/>
<g clip-path="url(#c2)">
<polyline class="rd" points="73.70,876.50 81.92,872.50 90.15,877.25 98.38,880.00 106.60,881.88 114.83,885.62 123.05,891.25 131.28,894.12 139.50,892.50 147.72,893.38 155.95,894.38 164.18,899.12 172.40,894.00 180.62,893.12 188.85,891.88 197.07,895.62 205.30,896.62 213.52,900.81 221.75,904.69 229.98,907.25 238.20,901.88 246.43,896.25 254.65,889.75 262.88,887.25 271.10,888.50 279.32,892.25 287.55,896.00 295.77,898.38 304.00,895.62 312.22,894.00 320.45,887.25 328.68,888.50 336.90,889.75 345.12,889.00 353.35,885.81 361.57,879.56 369.80,876.88 378.02,871.50 386.25,870.62 394.47,877.25 402.70,884.38 410.92,886.00 419.15,879.38 427.38,880.00 435.60,883.75 443.82,891.88 452.05,893.50 460.27,890.62 468.50,883.12 476.72,874.38 484.95,870.00 493.17,874.06 501.40,879.88 509.62,883.50 517.85,882.50 526.08,889.38 534.30,900.00 542.52,904.38 550.75,895.62 558.98,893.38 567.20,894.12 575.42,896.25 583.65,888.12 591.88,884.38 600.10,885.88 608.33,888.75 616.55,888.75 624.77,885.38 633.00,881.88 641.23,873.62 649.45,871.25 657.68,863.50 665.90,868.12 674.12,862.75 682.35,861.00 690.58,860.00 698.80,860.62 707.02,866.50 715.25,866.00 723.48,868.75 731.70,866.88 739.93,872.50 748.15,875.00 756.38,880.62 764.60,882.50 772.83,880.00 781.05,880.81 789.27,879.00 797.50,879.62 805.73,878.12 813.95,871.00 822.18,874.00 830.40,878.12 838.62,876.25 846.85,876.25 855.08,877.75 863.30,885.38 871.52,886.62 879.75,878.50 887.98,880.62 896.20,879.38 904.42,875.62 912.65,877.50 920.88,876.38 929.10,877.50 937.33,880.00 945.55,878.75 953.77,867.50 962.00,856.25 970.23,851.00 978.45,864.12 986.67,867.88 994.90,872.75 1003.12,874.12 1011.35,865.62 1019.58,866.88 1027.80,858.38 1036.02,874.00 1044.25,878.75 1052.47,891.12 1060.70,895.00 1068.92,893.75 1077.15,890.25 1085.38,878.12 1093.60,873.75 1101.83,875.38 1110.05,875.25 1118.28,876.25 1126.50,873.50 1134.72,875.25"/>
<polyline class="rd" points="73.70,936.50 81.92,933.75 90.15,932.25 98.38,932.75 106.60,936.00 114.83,938.50 123.05,940.62 131.28,936.88 139.50,934.38 147.72,935.88 155.95,942.50 164.18,949.38 172.40,951.88 180.62,949.38 188.85,944.38 197.07,940.38 205.30,940.38 213.52,946.25 221.75,947.69 229.98,949.00 238.20,941.62 246.43,941.50 254.65,937.50 262.88,941.25 271.10,945.25 279.32,949.12 287.55,948.12 295.77,946.25 304.00,945.88 312.22,943.12 320.45,941.00 328.68,938.75 336.90,945.25 345.12,947.50 353.35,949.88 361.57,942.81 369.80,938.50 378.02,935.88 386.25,938.75 394.47,943.12 402.70,948.50 410.92,944.12 419.15,940.00 427.38,931.00 435.60,933.75 443.82,938.75 452.05,944.38 460.27,944.75 468.50,939.38 476.72,934.38 484.95,932.50 493.17,935.31 501.40,935.50 509.62,937.50 517.85,935.38 526.08,941.25 534.30,946.00 542.52,953.12 550.75,955.38 558.98,954.38 567.20,956.00 575.42,950.00 583.65,945.62 591.88,941.88 600.10,946.00 608.33,950.25 616.55,954.38 624.77,954.38 633.00,953.44 641.23,945.25 649.45,946.50 657.68,947.25 665.90,949.75 674.12,951.88 682.35,946.25 690.58,949.12 698.80,948.75 707.02,954.38 715.25,949.12 723.48,938.75 731.70,934.38 739.93,943.75 748.15,956.25 756.38,973.75 764.60,977.50 772.83,970.62 781.05,962.50 789.27,962.88 797.50,975.38 805.73,981.88 813.95,972.25 822.18,967.50 830.40,962.88 838.62,959.12 846.85,952.88 855.08,948.75 863.30,951.62 871.52,948.38 879.75,944.75 887.98,959.38 896.20,969.38 904.42,986.88 912.65,977.94 920.88,967.38 929.10,958.12 937.33,960.25 945.55,967.25 953.77,961.25 962.00,953.75 970.23,943.12 978.45,951.00 986.67,949.38 994.90,956.88 1003.12,965.62 1011.35,973.50 1019.58,983.12 1027.80,980.00 1036.02,988.12 1044.25,994.38 1052.47,1002.62 1060.70,1006.62 1068.92,1002.25 1077.15,985.62 1085.38,968.75 1093.60,959.38 1101.83,950.62 1110.05,957.50 1118.28,955.00 1126.50,966.62 1134.72,963.38"/>
<path class="z" d="M74.5 914.5H1168.5"/>
<polyline class="bl" points="73.70,909.75 81.92,905.62 90.15,905.00 98.38,904.75 106.60,909.38 114.83,913.75 123.05,916.88 131.28,916.00 139.50,914.00 147.72,916.25 155.95,918.12 164.18,922.12 172.40,922.88 180.62,923.50 188.85,921.50 197.07,919.12 205.30,918.12 213.52,922.50 221.75,925.50 229.98,926.88 238.20,921.25 246.43,919.00 254.65,917.75 262.88,920.62 271.10,921.62 279.32,921.88 287.55,921.00 295.77,921.25 304.00,921.62 312.22,917.75 320.45,913.75 328.68,912.75 336.90,916.25 345.12,914.38 353.35,912.06 361.57,906.00 369.80,907.12 378.02,906.88 386.25,909.12 394.47,914.00 402.70,917.75 410.92,917.25 419.15,910.62 427.38,906.25 435.60,908.12 443.82,915.62 452.05,921.88 460.27,920.88 468.50,911.50 476.72,903.38 484.95,900.38 493.17,903.12 501.40,905.19 509.62,908.12 517.85,909.75 526.08,916.88 534.30,924.00 542.52,928.75 550.75,928.38 558.98,925.38 567.20,924.00 575.42,919.75 583.65,913.12 591.88,911.62 600.10,915.00 608.33,918.75 616.55,919.75 624.77,919.00 633.00,917.75 641.23,913.44 649.45,910.00 657.68,904.38 665.90,901.25 674.12,902.25 682.35,900.25 690.58,903.12 698.80,900.62 707.02,907.25 715.25,906.50 723.48,906.25 731.70,905.38 739.93,908.75 748.15,913.75 756.38,921.00 764.60,924.75 772.83,923.50 781.05,925.38 789.27,928.50 797.50,934.38 805.73,936.00 813.95,927.88 822.18,926.62 830.40,925.00 838.62,917.75 846.85,915.00 855.08,913.12 863.30,920.88 871.52,917.75 879.75,914.00 887.98,917.75 896.20,922.50 904.42,929.12 912.65,925.00 920.88,920.00 929.10,916.88 937.33,920.25 945.55,923.50 953.77,913.12 962.00,902.75 970.23,896.00 978.45,905.88 986.67,907.12 994.90,913.75 1003.12,918.38 1011.35,925.62 1019.58,933.12 1027.80,931.00 1036.02,939.38 1044.25,942.25 1052.47,951.12 1060.70,957.12 1068.92,955.62 1077.15,937.50 1085.38,918.75 1093.60,907.50 1101.83,908.75 1110.05,913.75 1118.28,918.38 1126.50,927.25 1134.72,930.62"/>
<polyline class="ob" points="73.70,912.93 81.92,908.31 90.15,899.81 98.38,893.81 106.60,896.68 114.83,906.06 123.05,914.56 131.28,916.68 139.50,916.93 147.72,918.56 155.95,917.93 164.18,914.18 172.40,910.06 180.62,908.81 188.85,908.31 197.07,906.06 205.30,903.93 213.52,903.56 221.75,908.56 229.98,915.81 238.20,921.06 246.43,923.56 254.65,922.93 262.88,917.93 271.10,911.93 279.32,911.31 287.55,918.56 295.77,925.68 304.00,930.18 312.22,931.06 320.45,930.06 328.68,926.06 336.90,919.81 345.12,911.68 353.35,902.56 361.57,897.56 369.80,895.18 378.02,896.06 386.25,898.93 394.47,905.68 402.70,911.68 410.92,912.56 419.15,908.56 427.38,906.68 435.60,910.18 443.82,919.18 452.05,927.06 460.27,925.43 468.50,916.68 476.72,907.06 484.95,905.06 493.17,905.56 501.40,907.00 509.62,909.56 517.85,916.68 526.08,925.43 534.30,932.68 542.52,934.81 550.75,934.18 558.98,929.18 567.20,917.93 575.42,904.18 583.65,893.56 591.88,892.06 600.10,892.06 608.33,890.81 616.55,891.43 624.77,899.18 633.00,910.43 641.23,919.56 649.45,921.06 657.68,919.18 665.90,913.56 674.12,903.56 682.35,896.31 690.58,892.06 698.80,890.43 707.02,886.06 715.25,880.68 723.48,882.56 731.70,891.68 739.93,904.18 748.15,914.18 756.38,919.18 764.60,924.18 772.83,926.68 781.05,925.56 789.27,924.18 797.50,925.81 805.73,930.81 813.95,933.18 822.18,931.43 830.40,927.31 838.62,925.43 846.85,919.18 855.08,906.06 863.30,893.31 871.52,891.68 879.75,904.18 887.98,919.18 896.20,929.81 904.42,928.31 912.65,914.81 920.88,896.06 929.10,886.93 937.33,892.93 945.55,907.31 953.77,921.06 962.00,930.06 970.23,937.31 978.45,938.81 986.67,936.43 994.90,938.93 1003.12,943.56 1011.35,947.93 1019.58,941.68 1027.80,940.81 1036.02,945.68 1044.25,950.43 1052.47,953.56"/>
</g>
<g fill="#000"><rect x="73.945" y="793.945" width="1095.110" height="1.110"/><rect x="73.945" y="1033.945" width="1095.110" height="1.110"/><rect x="73.945" y="793.945" width="1.110" height="241.110"/><rect x="1167.945" y="793.945" width="1.110" height="241.110"/><rect x="155.945" y="1034.500" width="1.110" height="5.000"/><rect x="270.945" y="1034.500" width="1.110" height="5.000"/><rect x="410.945" y="1034.500" width="1.110" height="5.000"/><rect x="525.945" y="1034.500" width="1.110" height="5.000"/><rect x="657.945" y="1034.500" width="1.110" height="5.000"/><rect x="772.945" y="1034.500" width="1.110" height="5.000"/><rect x="912.945" y="1034.500" width="1.110" height="5.000"/><rect x="1027.945" y="1034.500" width="1.110" height="5.000"/><rect x="1158.945" y="1034.500" width="1.110" height="5.000"/><rect x="69.500" y="793.945" width="5.000" height="1.110"/><rect x="69.500" y="813.945" width="5.000" height="1.110"/><rect x="69.500" y="833.945" width="5.000" height="1.110"/><rect x="69.500" y="853.945" width="5.000" height="1.110"/><rect x="69.500" y="873.945" width="5.000" height="1.110"/><rect x="69.500" y="893.945" width="5.000" height="1.110"/><rect x="69.500" y="913.945" width="5.000" height="1.110"/><rect x="69.500" y="933.945" width="5.000" height="1.110"/><rect x="69.500" y="953.945" width="5.000" height="1.110"/><rect x="69.500" y="973.945" width="5.000" height="1.110"/><rect x="69.500" y="993.945" width="5.000" height="1.110"/><rect x="69.500" y="1013.945" width="5.000" height="1.110"/><rect x="69.500" y="1033.945" width="5.000" height="1.110"/></g>
<text class="tk" x="63.76" y="799.44" text-anchor="end">6</text>
<text class="tk" x="63.72" y="819.28" text-anchor="end">5</text>
<text class="tk" x="64.80" y="838.76" text-anchor="end">4</text>
<text class="tk" x="63.80" y="858.88" text-anchor="end">3</text>
<text class="tk" x="63.83" y="878.96" text-anchor="end">2</text>
<text class="tk" x="64.96" y="898.96" text-anchor="end">1</text>
<text class="tk" x="64.85" y="920.33" text-anchor="end">0</text>
<text class="tk" x="63.74" y="939.94" text-anchor="end">−1</text>
<text class="tk" x="63.59" y="959.96" text-anchor="end">−2</text>
<text class="tk" x="63.64" y="979.89" text-anchor="end">−3</text>
<text class="tk" x="63.61" y="999.80" text-anchor="end">−4</text>
<text class="tk" x="63.60" y="1020.21" text-anchor="end">−5</text>
<text class="tk" x="63.63" y="1040.32" text-anchor="end">−6</text>
<text class="tk" x="155.84" y="1055.08" text-anchor="middle">01 Aug</text>
<text class="tk" x="271.94" y="1055.08" text-anchor="middle">15 Aug</text>
<text class="tk" x="411.32" y="1055.16" text-anchor="middle">01 Sep</text>
<text class="tk" x="526.46" y="1055.20" text-anchor="middle">15 Sep</text>
<text class="tk" x="658.14" y="1055.07" text-anchor="middle">01 Oct</text>
<text class="tk" x="773.43" y="1055.07" text-anchor="middle">15 Oct</text>
<text class="tk" x="912.65" y="1055.09" text-anchor="middle">01 Nov</text>
<text class="tk" x="1027.81" y="1055.12" text-anchor="middle">15 Nov</text>
<text class="tk" x="1159.75" y="1055.13" text-anchor="middle">01 Dec</text>
<text class="tl" x="74.0" y="785" textLength="357.65">1000mb Z (10 day Forecast)</text>
<text class="tr" x="1167.5" y="785" text-anchor="end">mean=-0.1395; cor(w/obs)=0.5421</text>
<text class="yl" transform="translate(34.20 917.50) rotate(-90)" text-anchor="middle" textLength="60.5">Index</text>
</g>
<g id="panel4">
<polygon class="yb" clip-path="url(#c3)" points="73.70,1226.85 81.92,1225.10 90.15,1221.60 98.38,1219.97 106.60,1219.10 114.83,1220.97 123.05,1220.35 131.28,1223.47 139.50,1226.22 147.72,1229.97 155.95,1231.60 164.18,1231.60 172.40,1230.60 180.62,1227.47 188.85,1229.47 197.07,1230.60 205.30,1230.35 213.52,1230.35 221.75,1231.60 229.98,1233.47 238.20,1233.47 246.43,1234.72 254.65,1235.35 262.88,1234.72 271.10,1231.60 279.32,1229.35 287.55,1229.72 295.77,1232.85 304.00,1237.22 312.22,1238.10 320.45,1236.85 328.68,1235.35 336.90,1233.47 345.12,1228.47 353.35,1221.35 361.57,1219.91 369.80,1218.47 378.02,1217.85 386.25,1215.72 394.47,1214.72 402.70,1215.97 410.92,1215.72 419.15,1218.47 427.38,1219.72 435.60,1225.60 443.82,1224.72 452.05,1223.85 460.27,1221.85 468.50,1225.10 476.72,1230.97 484.95,1234.72 493.17,1235.35 501.40,1233.16 509.62,1230.35 517.85,1228.47 526.08,1226.85 534.30,1223.85 542.52,1224.72 550.75,1226.60 558.98,1229.72 567.20,1231.60 575.42,1227.85 583.65,1223.10 591.88,1223.72 600.10,1227.22 608.33,1230.35 616.55,1229.10 624.77,1229.72 633.00,1230.10 641.23,1226.60 649.45,1225.35 657.68,1224.72 665.90,1221.22 674.12,1217.60 682.35,1212.60 690.58,1213.85 698.80,1216.35 707.02,1220.35 715.25,1222.60 723.48,1227.47 731.70,1227.47 739.93,1227.47 748.15,1218.47 756.38,1216.60 764.60,1218.85 772.83,1227.47 781.05,1228.79 789.27,1230.35 797.50,1227.60 805.73,1228.47 813.95,1229.47 822.18,1231.22 830.40,1225.10 838.62,1218.47 846.85,1210.35 855.08,1214.97 863.30,1224.10 871.52,1227.22 879.75,1229.35 887.98,1225.60 896.20,1231.97 904.42,1236.60 912.65,1238.47 920.88,1222.85 929.10,1215.35 937.33,1211.60 945.55,1217.85 953.77,1213.10 962.00,1207.60 970.23,1205.97 978.45,1205.97 986.67,1205.97 994.90,1203.22 1003.12,1203.10 1011.35,1205.97 1019.58,1209.72 1027.80,1212.85 1036.02,1217.85 1044.25,1219.85 1052.47,1221.60 1060.70,1218.79 1068.92,1224.47 1077.15,1223.47 1085.38,1228.85 1093.60,1227.47 1101.83,1228.85 1110.05,1225.60 1118.28,1220.97 1126.50,1221.97 1134.72,1224.10 1142.95,1226.97 1151.17,1226.60 1159.40,1226.85 1167.62,1227.47 1167.62,1287.78 1159.40,1286.78 1151.17,1284.28 1142.95,1281.53 1134.72,1276.53 1126.50,1279.03 1118.28,1280.90 1110.05,1286.15 1101.83,1285.28 1093.60,1279.90 1085.38,1282.78 1077.15,1284.03 1068.92,1288.03 1060.70,1284.03 1052.47,1279.65 1044.25,1274.03 1036.02,1267.15 1027.80,1265.90 1019.58,1260.28 1011.35,1255.90 1003.12,1249.40 994.90,1251.53 986.67,1251.90 978.45,1252.40 970.23,1254.03 962.00,1258.40 953.77,1265.90 945.55,1272.15 937.33,1269.65 929.10,1270.90 920.88,1276.84 912.65,1284.84 904.42,1283.15 896.20,1276.53 887.98,1268.15 879.75,1268.40 871.52,1264.03 863.30,1262.78 855.08,1257.15 846.85,1262.78 838.62,1271.53 830.40,1280.28 822.18,1281.90 813.95,1279.40 805.73,1276.53 797.50,1278.40 789.27,1284.03 781.05,1281.21 772.83,1277.15 764.60,1264.03 756.38,1265.65 748.15,1264.28 739.93,1269.90 731.70,1268.15 723.48,1267.40 715.25,1262.78 707.02,1261.15 698.80,1259.90 690.58,1258.15 682.35,1256.53 674.12,1260.65 665.90,1266.53 657.68,1270.28 649.45,1271.53 641.23,1274.53 633.00,1272.40 624.77,1269.65 616.55,1266.90 608.33,1268.65 600.10,1263.40 591.88,1259.03 583.65,1259.03 575.42,1266.53 567.20,1268.15 558.98,1267.40 550.75,1262.40 542.52,1258.40 534.30,1258.40 526.08,1259.03 517.85,1260.90 509.62,1262.15 501.40,1264.65 493.17,1267.78 484.95,1268.40 476.72,1267.15 468.50,1260.28 460.27,1254.03 452.05,1254.65 443.82,1257.15 435.60,1255.90 427.38,1251.53 419.15,1250.03 410.92,1245.90 402.70,1247.15 394.47,1245.90 386.25,1251.53 378.02,1252.78 369.80,1254.65 361.57,1255.59 353.35,1258.40 345.12,1261.53 336.90,1264.03 328.68,1263.15 320.45,1261.90 312.22,1260.28 304.00,1259.03 295.77,1257.40 287.55,1255.90 279.32,1255.65 271.10,1256.90 262.88,1260.90 254.65,1262.78 246.43,1263.40 238.20,1259.65 229.98,1259.90 221.75,1258.40 213.52,1259.78 205.30,1259.03 197.07,1258.65 188.85,1257.40 180.62,1257.15 172.40,1258.40 164.18,1258.65 155.95,1257.53 147.72,1255.28 139.50,1252.78 131.28,1250.65 123.05,1247.78 114.83,1248.65 106.60,1248.03 98.38,1249.03 90.15,1251.15 81.92,1254.65 73.70,1256.53"/>
<path class="g2" d="M74.5 1140.5H1168.5M74.5 1161.5H1168.5M74.5 1181.5H1168.5M74.5 1201.5H1168.5M74.5 1221.5H1168.5M74.5 1241.5H1168.5M74.5 1261.5H1168.5M74.5 1281.5H1168.5M74.5 1301.5H1168.5M74.5 1321.5H1168.5M74.5 1341.5H1168.5"/>
<path class="g" d="M156.5 1361.5V1120.5M271.5 1361.5V1120.5M411.5 1361.5V1120.5M526.5 1361.5V1120.5M658.5 1361.5V1120.5M773.5 1361.5V1120.5M913.5 1361.5V1120.5M1028.5 1361.5V1120.5M1159.5 1361.5V1120.5M74.5 1140.5H1168.5M74.5 1161.5H1168.5M74.5 1181.5H1168.5M74.5 1201.5H1168.5M74.5 1221.5H1168.5M74.5 1241.5H1168.5M74.5 1261.5H1168.5M74.5 1281.5H1168.5M74.5 1301.5H1168.5M74.5 1321.5H1168.5M74.5 1341.5H1168.5"/>
<g clip-path="url(#c3)">
<polyline class="rd" points="73.70,1210.88 81.92,1208.50 90.15,1204.38 98.38,1204.00 106.60,1201.62 114.83,1206.88 123.05,1206.62 131.28,1209.62 139.50,1209.38 147.72,1213.38 155.95,1215.88 164.18,1214.62 172.40,1209.38 180.62,1204.12 188.85,1211.00 197.07,1216.25 205.30,1218.50 213.52,1214.25 221.75,1216.25 229.98,1217.50 238.20,1216.88 246.43,1216.00 254.65,1219.75 262.88,1221.00 271.10,1216.88 279.32,1212.50 287.55,1213.50 295.77,1219.38 304.00,1224.75 312.22,1222.50 320.45,1219.62 328.68,1214.38 336.90,1212.75 345.12,1208.50 353.35,1202.50 361.57,1204.38 369.80,1197.25 378.02,1199.62 386.25,1198.12 394.47,1204.75 402.70,1206.25 410.92,1207.25 419.15,1210.38 427.38,1209.38 435.60,1211.25 443.82,1204.75 452.05,1203.12 460.27,1200.25 468.50,1202.50 476.72,1209.38 484.95,1215.62 493.17,1218.88 501.40,1215.00 509.62,1213.50 517.85,1212.25 526.08,1211.00 534.30,1208.75 542.52,1210.38 550.75,1209.38 558.98,1211.88 567.20,1214.38 575.42,1206.88 583.65,1204.38 591.88,1203.50 600.10,1213.12 608.33,1212.50 616.55,1212.75 624.77,1211.62 633.00,1207.50 641.23,1204.38 649.45,1203.75 657.68,1211.00 665.90,1206.00 674.12,1201.88 682.35,1190.62 690.58,1190.62 698.80,1196.25 707.02,1205.38 715.25,1200.38 723.48,1204.62 731.70,1202.50 739.93,1202.25 748.15,1190.62 756.38,1187.88 764.60,1196.88 772.83,1203.75 781.05,1201.12 789.27,1202.50 797.50,1197.12 805.73,1201.25 813.95,1191.88 822.18,1188.12 830.40,1174.75 838.62,1171.50 846.85,1168.50 855.08,1185.62 863.30,1202.25 871.52,1208.12 879.75,1208.38 887.98,1203.38 896.20,1207.25 904.42,1213.38 912.65,1207.50 920.88,1189.38 929.10,1179.12 937.33,1174.75 945.55,1191.25 953.77,1186.62 962.00,1183.12 970.23,1181.25 978.45,1180.38 986.67,1183.38 994.90,1178.12 1003.12,1181.25 1011.35,1178.75 1019.58,1184.75 1027.80,1181.88 1036.02,1190.94 1044.25,1186.25 1052.47,1193.75 1060.70,1181.88 1068.92,1184.62 1077.15,1178.75 1085.38,1196.00 1093.60,1196.00 1101.83,1201.50 1110.05,1199.62 1118.28,1203.75 1126.50,1208.12 1134.72,1210.62 1142.95,1212.50 1151.17,1197.25 1159.40,1191.88 1167.62,1185.00"/>
<polyline class="rd" points="73.70,1275.62 81.92,1271.25 90.15,1265.62 98.38,1263.38 106.60,1261.62 114.83,1262.25 123.05,1261.88 131.28,1266.00 139.50,1269.75 147.72,1274.00 155.95,1277.50 164.18,1277.12 172.40,1269.75 180.62,1266.62 188.85,1266.88 197.07,1271.50 205.30,1272.25 213.52,1273.12 221.75,1270.62 229.98,1271.50 238.20,1273.12 246.43,1278.38 254.65,1276.88 262.88,1274.75 271.10,1266.00 279.32,1264.62 287.55,1266.00 295.77,1268.50 304.00,1268.50 312.22,1269.00 320.45,1271.25 328.68,1275.00 336.90,1274.38 345.12,1272.75 353.35,1275.00 361.57,1273.38 369.80,1275.00 378.02,1272.25 386.25,1276.25 394.47,1268.50 402.70,1270.00 410.92,1265.38 419.15,1269.75 427.38,1267.50 435.60,1271.25 443.82,1272.12 452.05,1268.12 460.27,1266.88 468.50,1271.88 476.72,1286.88 484.95,1292.25 493.17,1293.31 501.40,1284.06 509.62,1277.25 517.85,1280.25 526.08,1274.75 534.30,1281.88 542.52,1273.75 550.75,1281.00 558.98,1286.00 567.20,1290.25 575.42,1288.75 583.65,1276.50 591.88,1277.25 600.10,1286.25 608.33,1295.62 616.55,1294.62 624.77,1293.75 633.00,1293.38 641.23,1301.25 649.45,1303.12 657.68,1310.38 665.90,1301.88 674.12,1288.75 682.35,1277.50 690.58,1285.62 698.80,1289.75 707.02,1289.38 715.25,1283.12 723.48,1287.25 731.70,1288.75 739.93,1291.25 748.15,1286.25 756.38,1289.38 764.60,1284.00 772.83,1304.75 781.05,1315.62 789.27,1322.12 797.50,1311.00 805.73,1304.62 813.95,1304.38 822.18,1301.50 830.40,1301.50 838.62,1294.00 846.85,1297.75 855.08,1287.50 863.30,1293.50 871.52,1281.00 879.75,1286.25 887.98,1284.38 896.20,1295.00 904.42,1302.50 912.65,1309.50 920.88,1302.12 929.10,1305.25 937.33,1304.75 945.55,1305.38 953.77,1290.62 962.00,1287.50 970.23,1286.50 978.45,1286.25 986.67,1278.12 994.90,1280.62 1003.12,1277.88 1011.35,1286.25 1019.58,1284.62 1027.80,1293.38 1036.02,1288.75 1044.25,1297.50 1052.47,1306.88 1060.70,1318.12 1068.92,1326.50 1077.15,1320.62 1085.38,1318.75 1093.60,1309.38 1101.83,1317.75 1110.05,1323.75 1118.28,1326.25 1126.50,1317.25 1134.72,1303.75 1142.95,1307.50 1151.17,1314.00 1159.40,1320.62 1167.62,1316.62"/>
<path class="z" d="M74.5 1241.5H1168.5"/>
<polyline class="bl" points="73.70,1241.00 81.92,1239.38 90.15,1236.00 98.38,1234.12 106.60,1233.12 114.83,1234.62 123.05,1233.75 131.28,1236.88 139.50,1239.38 147.72,1242.75 155.95,1244.00 164.18,1245.00 172.40,1244.38 180.62,1242.12 188.85,1243.12 197.07,1244.38 205.30,1244.62 213.52,1244.88 221.75,1244.56 229.98,1246.50 238.20,1246.25 246.43,1248.50 254.65,1248.75 262.88,1247.50 271.10,1244.00 279.32,1242.50 287.55,1242.50 295.77,1244.62 304.00,1247.50 312.22,1248.75 320.45,1248.75 328.68,1248.75 336.90,1247.50 345.12,1244.12 353.35,1239.38 361.57,1236.88 369.80,1235.88 378.02,1234.62 386.25,1232.88 394.47,1229.75 402.70,1231.00 410.92,1230.38 419.15,1233.75 427.38,1235.62 435.60,1240.00 443.82,1240.25 452.05,1239.00 460.27,1237.50 468.50,1241.88 476.72,1248.50 484.95,1250.62 493.17,1251.25 501.40,1247.25 509.62,1245.62 517.85,1243.75 526.08,1242.50 534.30,1240.88 542.52,1240.88 550.75,1243.75 558.98,1248.12 567.20,1249.38 575.42,1246.88 583.65,1240.38 591.88,1240.88 600.10,1245.00 608.33,1249.38 616.55,1247.25 624.77,1249.38 633.00,1251.00 641.23,1250.00 649.45,1247.88 657.68,1246.88 665.90,1243.50 674.12,1238.75 682.35,1234.00 690.58,1235.62 698.80,1237.75 707.02,1240.38 715.25,1242.50 723.48,1247.25 731.70,1247.25 739.93,1248.12 748.15,1240.38 756.38,1240.62 764.60,1240.62 772.83,1251.25 781.05,1254.00 789.27,1256.88 797.50,1252.50 805.73,1252.25 813.95,1254.12 822.18,1256.00 830.40,1251.88 838.62,1243.75 846.85,1235.88 855.08,1235.62 863.30,1242.75 871.52,1245.38 879.75,1249.00 887.98,1246.25 896.20,1253.50 904.42,1259.62 912.65,1261.56 920.88,1249.38 929.10,1242.50 937.33,1239.62 945.55,1244.75 953.77,1238.50 962.00,1232.12 970.23,1229.38 978.45,1228.38 986.67,1227.88 994.90,1226.50 1003.12,1225.25 1011.35,1230.38 1019.58,1234.12 1027.80,1239.38 1036.02,1242.12 1044.25,1246.62 1052.47,1249.88 1060.70,1250.62 1068.92,1256.00 1077.15,1252.88 1085.38,1255.62 1093.60,1252.88 1101.83,1256.88 1110.05,1255.62 1118.28,1250.25 1126.50,1249.75 1134.72,1248.75 1142.95,1253.50 1151.17,1255.00 1159.40,1256.50 1167.62,1257.12"/>
<polyline class="ob" points="73.70,1239.72 81.92,1235.09 90.15,1226.59 98.38,1220.59 106.60,1223.47 114.83,1232.84 123.05,1241.34 131.28,1243.47 139.50,1243.72 147.72,1245.34 155.95,1244.72 164.18,1240.97 172.40,1236.84 180.62,1235.59 188.85,1235.09 197.07,1232.84 205.30,1230.72 213.52,1230.34 221.75,1235.34 229.98,1242.59 238.20,1247.84 246.43,1250.34 254.65,1249.72 262.88,1244.72 271.10,1238.72 279.32,1238.09 287.55,1245.34 295.77,1252.47 304.00,1256.97 312.22,1257.84 320.45,1256.84 328.68,1252.84 336.90,1246.59 345.12,1238.47 353.35,1229.34 361.57,1224.34 369.80,1221.97 378.02,1222.84 386.25,1225.72 394.47,1232.47 402.70,1238.47 410.92,1239.34 419.15,1235.34 427.38,1233.47 435.60,1236.97 443.82,1245.97 452.05,1253.84 460.27,1252.22 468.50,1243.47 476.72,1233.84 484.95,1231.84 493.17,1232.34 501.40,1233.78 509.62,1236.34 517.85,1243.47 526.08,1252.22 534.30,1259.47 542.52,1261.59 550.75,1260.97 558.98,1255.97 567.20,1244.72 575.42,1230.97 583.65,1220.34 591.88,1218.84 600.10,1218.84 608.33,1217.59 616.55,1218.22 624.77,1225.97 633.00,1237.22 641.23,1246.34 649.45,1247.84 657.68,1245.97 665.90,1240.34 674.12,1230.34 682.35,1223.09 690.58,1218.84 698.80,1217.22 707.02,1212.84 715.25,1207.47 723.48,1209.34 731.70,1218.47 739.93,1230.97 748.15,1240.97 756.38,1245.97 764.60,1250.97 772.83,1253.47 781.05,1252.34 789.27,1250.97 797.50,1252.59 805.73,1257.59 813.95,1259.97 822.18,1258.22 830.40,1254.09 838.62,1252.22 846.85,1245.97 855.08,1232.84 863.30,1220.09 871.52,1218.47 879.75,1230.97 887.98,1245.97 896.20,1256.59 904.42,1255.09 912.65,1241.59 920.88,1222.84 929.10,1213.72 937.33,1219.72 945.55,1234.09 953.77,1247.84 962.00,1256.84 970.23,1264.09 978.45,1265.59 986.67,1263.22 994.90,1265.72 1003.12,1270.34 1011.35,1274.72 1019.58,1268.47 1027.80,1267.59 1036.02,1272.47 1044.25,1277.22 1052.47,1280.34"/>
</g>
<g fill="#000"><rect x="73.945" y="1119.945" width="1095.110" height="1.110"/><rect x="73.945" y="1360.945" width="1095.110" height="1.110"/><rect x="73.945" y="1119.945" width="1.110" height="242.110"/><rect x="1167.945" y="1119.945" width="1.110" height="242.110"/><rect x="155.945" y="1361.500" width="1.110" height="5.000"/><rect x="270.945" y="1361.500" width="1.110" height="5.000"/><rect x="410.945" y="1361.500" width="1.110" height="5.000"/><rect x="525.945" y="1361.500" width="1.110" height="5.000"/><rect x="657.945" y="1361.500" width="1.110" height="5.000"/><rect x="772.945" y="1361.500" width="1.110" height="5.000"/><rect x="912.945" y="1361.500" width="1.110" height="5.000"/><rect x="1027.945" y="1361.500" width="1.110" height="5.000"/><rect x="1158.945" y="1361.500" width="1.110" height="5.000"/><rect x="69.500" y="1119.945" width="5.000" height="1.110"/><rect x="69.500" y="1139.945" width="5.000" height="1.110"/><rect x="69.500" y="1160.945" width="5.000" height="1.110"/><rect x="69.500" y="1180.945" width="5.000" height="1.110"/><rect x="69.500" y="1200.945" width="5.000" height="1.110"/><rect x="69.500" y="1220.945" width="5.000" height="1.110"/><rect x="69.500" y="1240.945" width="5.000" height="1.110"/><rect x="69.500" y="1260.945" width="5.000" height="1.110"/><rect x="69.500" y="1280.945" width="5.000" height="1.110"/><rect x="69.500" y="1300.945" width="5.000" height="1.110"/><rect x="69.500" y="1320.945" width="5.000" height="1.110"/><rect x="69.500" y="1340.945" width="5.000" height="1.110"/><rect x="69.500" y="1360.945" width="5.000" height="1.110"/></g>
<text class="tk" x="63.76" y="1126.44" text-anchor="end">6</text>
<text class="tk" x="63.72" y="1146.28" text-anchor="end">5</text>
<text class="tk" x="64.80" y="1165.76" text-anchor="end">4</text>
<text class="tk" x="63.80" y="1185.88" text-anchor="end">3</text>
<text class="tk" x="63.83" y="1205.96" text-anchor="end">2</text>
<text class="tk" x="64.96" y="1225.96" text-anchor="end">1</text>
<text class="tk" x="64.85" y="1246.33" text-anchor="end">0</text>
<text class="tk" x="63.74" y="1265.94" text-anchor="end">−1</text>
<text class="tk" x="63.59" y="1285.96" text-anchor="end">−2</text>
<text class="tk" x="63.64" y="1306.89" text-anchor="end">−3</text>
<text class="tk" x="63.61" y="1326.80" text-anchor="end">−4</text>
<text class="tk" x="63.60" y="1347.21" text-anchor="end">−5</text>
<text class="tk" x="63.63" y="1367.32" text-anchor="end">−6</text>
<text class="tk" x="155.84" y="1382.08" text-anchor="middle">01 Aug</text>
<text class="tk" x="271.94" y="1382.08" text-anchor="middle">15 Aug</text>
<text class="tk" x="411.32" y="1382.16" text-anchor="middle">01 Sep</text>
<text class="tk" x="526.46" y="1382.20" text-anchor="middle">15 Sep</text>
<text class="tk" x="658.14" y="1382.07" text-anchor="middle">01 Oct</text>
<text class="tk" x="773.43" y="1382.07" text-anchor="middle">15 Oct</text>
<text class="tk" x="912.65" y="1382.09" text-anchor="middle">01 Nov</text>
<text class="tk" x="1027.81" y="1382.12" text-anchor="middle">15 Nov</text>
<text class="tk" x="1159.75" y="1382.13" text-anchor="middle">01 Dec</text>
<text class="tl" x="74.0" y="1112" textLength="357.65">1000mb Z (14 day Forecast)</text>
<text class="tr" x="1167.5" y="1112" text-anchor="end">mean=-0.1072; cor(w/obs)=0.037</text>
<text class="yl" transform="translate(34.20 1245.00) rotate(-90)" text-anchor="middle" textLength="60.5">Index</text>
</g>
</svg></body></html>
